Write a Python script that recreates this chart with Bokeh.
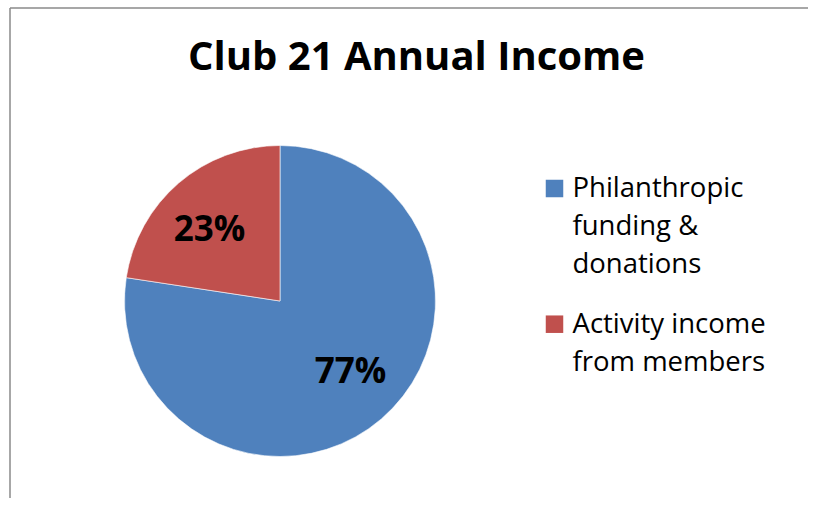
import math
import textwrap
from bokeh.plotting import figure
from bokeh.models import Range1d, ColumnDataSource
from bokeh.core.properties import value
from bokeh.embed import file_html
from bokeh.resources import INLINE

# ---- data ----
title_text = "Club 21 Annual Income"
categories = ["Philanthropic funding & donations", "Activity income from members"]
shares = [77.4, 22.6]
colors = ["#4F81BD", "#C0504D"]

# ---- layout constants (pixel-like data units) ----
W, H = 808, 498
cx, cy, R = 279.5, 197.5, 155.5
FONT = "Open Sans"
BASE_FIX = 0.43  # compensation for rendered baseline offset (fraction of font size)

p = figure(width=W, height=H, output_backend="svg", toolbar_location=None,
           x_range=Range1d(0, W), y_range=Range1d(0, H), min_border=0)
p.axis.visible = False
p.grid.visible = False
p.outline_line_color = None
p.background_fill_color = "white"
p.border_fill_color = "white"

# chart area border (left and top edges visible)
p.multi_line(xs=[[9.5, 9.5], [9.5, W + 5]], ys=[[-5, 490.5], [490.5, 490.5]],
             line_color="#8a8a8a", line_width=1.5)

# wedges
total = sum(shares)
cum = 0.0
starts, ends, mids = [], [], []
for v in shares:
    a0 = math.pi / 2 - 2 * math.pi * cum / total
    a1 = math.pi / 2 - 2 * math.pi * (cum + v) / total
    starts.append(a0)
    ends.append(a1)
    mids.append((a0 + a1) / 2)
    cum += v

src = ColumnDataSource(dict(start=starts, end=ends, color=colors))
p.wedge(x=cx, y=cy, radius=R, start_angle="start", end_angle="end",
        direction="clock", fill_color="color", line_color="white",
        line_width=0.6, source=src)

# data labels
lr = 0.645 * R
lab_fs = 35
shift = 0.07
lab_src = ColumnDataSource(dict(
    x=[cx + lr * math.cos(m + shift) for m in mids],
    y=[cy + lr * math.sin(m + shift) - 0.714 * lab_fs / 2 + BASE_FIX * lab_fs
       for m in mids],
    t=[f"{round(v)}%" for v in shares]))
p.text(x="x", y="y", text="t", source=lab_src, text_align="center",
       text_baseline="alphabetic", text_font=value(FONT), text_font_style="bold",
       text_font_size=f"{lab_fs}px", text_color="black")

# title
title_fs = 40
p.text(x=[416], y=[427 + BASE_FIX * title_fs], text=[title_text],
       text_align="center", text_baseline="alphabetic", text_font=value(FONT),
       text_font_style="bold", text_font_size=f"{title_fs}px", text_color="black")

# legend (manual, wrapped)
leg_fs = 27.5
lx_box, lx_text = 554, 572
first_baselines = [300, 164.3]
line_gap = 38
tx, ty, tt = [], [], []
bx, by = [], []
for cat, b0 in zip(categories, first_baselines):
    lines = textwrap.wrap(cat, width=15)
    for i, ln in enumerate(lines):
        tx.append(lx_text)
        ty.append(b0 - i * line_gap + BASE_FIX * leg_fs)
        tt.append(ln)
    bx.append(lx_box)
    by.append(b0 + 10)
p.rect(x=bx, y=by, width=17.5, height=17.5, fill_color=colors, line_color=None)
p.text(x=tx, y=ty, text=tt, text_align="left", text_baseline="alphabetic",
       text_font=value(FONT), text_font_size=f"{leg_fs}px", text_color="black")

open("out.html", "w").write(file_html(p, INLINE))
